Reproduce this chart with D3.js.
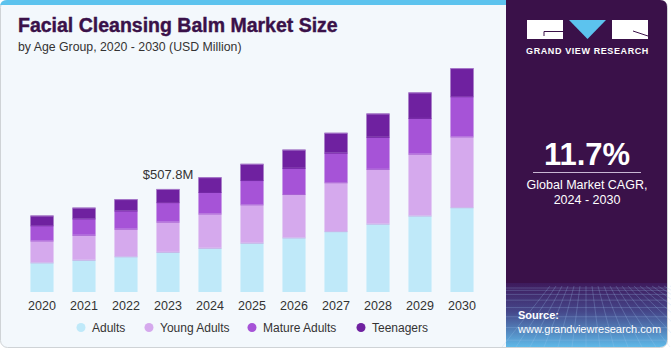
<!DOCTYPE html>
<html>
<head>
<meta charset="utf-8">
<script src="https://cdn.jsdelivr.net/npm/d3@7"></script>
<style>
  body { margin: 0; background: #fff; }
  svg { display: block; font-family: "Liberation Sans", Arial, sans-serif; }
</style>
</head>
<body>
<div id="chart"></div>
<script>
// values (USD Million)
const years = ["2020","2021","2022","2023","2024","2025","2026","2027","2028","2029","2030"]
const adults      = [146, 159, 176, 198, 218, 243, 269, 300, 337, 377, 418]
const youngAdults = [108, 123, 136, 149, 169, 189, 214, 241, 270, 305, 349]
const matureAdults = [75, 81, 90, 96, 106, 120, 129, 146, 158, 176, 198]
const teenagers   = [48, 53, 56, 65, 73, 80, 90, 98, 115, 126, 139]
const segments = ["Adults", "Young Adults", "Mature Adults", "Teenagers"]
const colors = ["#bfe9f9", "#d5a9ed", "#a653d7", "#6f21a0"]
const callout = { year: "2023", label: "$507.8M" }

const W = 671, H = 350

let svg = d3.select("#chart").append("svg")
    .attr("width", W)
    .attr("height", H)

// card background
svg.append("rect")
    .attr("x", 0.5).attr("y", 0.5)
    .attr("width", 667).attr("height", 347)
    .attr("rx", 7)
    .attr("fill", "#f3f8fc")
    .attr("stroke", "#cfd3d6")

// top blue strip
svg.append("path")
    .attr("d", "M0,7 Q0,0 7,0 L506,0 L506,5 L0,5 Z")
    .attr("fill", "#5cc3ee")

// right panel
let defs = svg.append("defs")
let grad = defs.append("linearGradient")
    .attr("id", "srcGrad")
    .attr("x1", 0).attr("y1", 0).attr("x2", 0).attr("y2", 1)
grad.append("stop").attr("offset", "0%").attr("stop-color", "#3e1a5c")
grad.append("stop").attr("offset", "45%").attr("stop-color", "#45478a")
grad.append("stop").attr("offset", "100%").attr("stop-color", "#5fb9e8")

svg.append("path")
    .attr("d", "M506,0 L660,0 Q667,0 667,7 L667,283 L506,283 Z")
    .attr("fill", "#3a1149")
svg.append("path")
    .attr("d", "M506,283 L667,283 L667,340 Q667,347 660,347 L506,347 Z")
    .attr("fill", "url(#srcGrad)")

// faint grid on the source area
let grid = svg.append("g").attr("stroke", "#9fc9ee").attr("stroke-opacity", 0.25).attr("fill", "none")
d3.range(0, 9).forEach(i => {
    let y = 288 + i * i * 0.85 + i * 1.5
    grid.append("line").attr("x1", 506).attr("x2", 667).attr("y1", y).attr("y2", y)
})
d3.range(-6, 18).forEach(i => {
    let x0 = 586 + i * 6, x1 = 586 + i * 14
    grid.append("line").attr("x1", x0).attr("y1", 286).attr("x2", x1).attr("y2", 347)
})

// logo
let logo = svg.append("g")
logo.append("rect").attr("x", 527).attr("y", 20).attr("width", 36).attr("height", 19).attr("fill", "#fff")
logo.append("path").attr("d", "M569,20 L606,20 L587.5,39 Z").attr("fill", "#5cc3ee")
logo.append("rect").attr("x", 612).attr("y", 20).attr("width", 36).attr("height", 19).attr("fill", "#fff")
logo.append("path").attr("d", "M563,31.5 L544,31.5 L544,36").attr("stroke", "#3a1149").attr("stroke-width", 1).attr("fill", "none")
logo.append("path").attr("d", "M633,31 L648,36").attr("stroke", "#3a1149").attr("stroke-width", 1)
logo.append("text")
    .attr("x", 587.5).attr("y", 54)
    .attr("text-anchor", "middle")
    .attr("fill", "#fff")
    .attr("font-size", 9)
    .attr("font-weight", "bold")
    .attr("letter-spacing", 0.6)
    .text("GRAND VIEW RESEARCH")

// CAGR block
svg.append("text")
    .attr("x", 587).attr("y", 165)
    .attr("text-anchor", "middle")
    .attr("fill", "#fff")
    .attr("font-size", 31)
    .attr("font-weight", "bold")
    .text("11.7%")
svg.append("line")
    .attr("x1", 533).attr("x2", 641)
    .attr("y1", 172.5).attr("y2", 172.5)
    .attr("stroke", "#c9b7d3")
svg.append("text")
    .attr("x", 587).attr("y", 189)
    .attr("text-anchor", "middle")
    .attr("fill", "#fff")
    .attr("font-size", 12.5)
    .text("Global Market CAGR,")
svg.append("text")
    .attr("x", 587).attr("y", 204)
    .attr("text-anchor", "middle")
    .attr("fill", "#fff")
    .attr("font-size", 12.5)
    .text("2024 - 2030")

// source
svg.append("text")
    .attr("x", 518).attr("y", 319)
    .attr("fill", "#fff")
    .attr("font-size", 11)
    .attr("font-weight", "bold")
    .text("Source:")
svg.append("text")
    .attr("x", 518).attr("y", 333)
    .attr("fill", "#fff")
    .attr("font-size", 11)
    .text("www.grandviewresearch.com")

// title
svg.append("text")
    .attr("x", 18).attr("y", 32)
    .attr("fill", "#3a1149")
    .attr("font-size", 19.5)
    .attr("font-weight", "bold")
    .attr("stroke", "#3a1149")
    .attr("stroke-width", 0.4)
    .text("Facial Cleansing Balm Market Size")
svg.append("text")
    .attr("x", 18).attr("y", 51)
    .attr("fill", "#333")
    .attr("font-size", 12.3)
    .text("by Age Group, 2020 - 2030 (USD Million)")

// chart
let rows = years.map((y, i) => ({
    year: y,
    "Adults": adults[i],
    "Young Adults": youngAdults[i],
    "Mature Adults": matureAdults[i],
    "Teenagers": teenagers[i]
}))

let stack = d3.stack().keys(segments)(rows)

let xScale = d3.scaleBand()
    .domain(years)
    .range([21, 483])
    .paddingInner(0.45)
    .paddingOuter(0.225)

let yScale = d3.scaleLinear()
    .domain([0, 507.8])
    .range([292, 189])

let g = svg.append("g")

g.selectAll("g.layer")
    .data(stack)
    .enter()
    .append("g")
        .attr("class", "layer")
        .attr("fill", (d, i) => colors[i])
    .selectAll("rect")
    .data(d => d)
    .enter()
    .append("rect")
        .attr("x", d => xScale(d.data.year))
        .attr("width", xScale.bandwidth())
        .attr("y", d => yScale(d[1]))
        .attr("height", d => yScale(d[0]) - yScale(d[1]))

// thin lighter line on top of each segment
g.selectAll("g.layer")
    .each(function(layer, i) {
        d3.select(this).selectAll("line")
            .data(layer)
            .enter()
            .append("line")
                .attr("x1", d => xScale(d.data.year))
                .attr("x2", d => xScale(d.data.year) + xScale.bandwidth())
                .attr("y1", d => yScale(d[1]) + 0.5)
                .attr("y2", d => yScale(d[1]) + 0.5)
                .attr("stroke", i == 3 ? "#b58fd3" : d3.color(colors[i + 1]).darker(0.15))
                .attr("stroke-opacity", 0.8)
    })

// x axis labels
let xAxis = svg.append("g")
    .attr("transform", "translate(0,293)")
    .call(d3.axisBottom(xScale).tickSize(0).tickPadding(8))
xAxis.select(".domain").remove()
xAxis.selectAll("text")
    .attr("font-size", 12.5)
    .attr("font-family", "Liberation Sans, Arial, sans-serif")
    .attr("fill", "#333")

// callout
svg.append("text")
    .attr("x", xScale(callout.year) + xScale.bandwidth() / 2)
    .attr("y", 179)
    .attr("text-anchor", "middle")
    .attr("fill", "#333")
    .attr("font-size", 13)
    .text(callout.label)

// legend
let legendX = [81, 149, 252, 361]
let legend = svg.append("g")
legend.selectAll("circle")
    .data(segments)
    .enter()
    .append("circle")
        .attr("cx", (d, i) => legendX[i])
        .attr("cy", 327.5)
        .attr("r", 4.5)
        .attr("fill", (d, i) => colors[i])
legend.selectAll("text")
    .data(segments)
    .enter()
    .append("text")
        .attr("x", (d, i) => legendX[i] + 11)
        .attr("y", 332)
        .attr("fill", "#333")
        .attr("font-size", 12)
        .text(d => d)
</script>
</body>
</html>
